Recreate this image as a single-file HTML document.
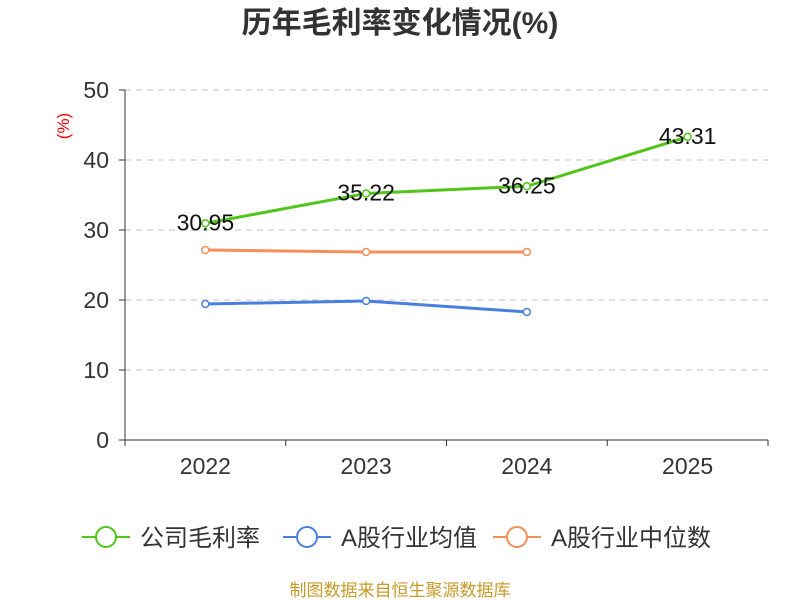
<!DOCTYPE html>
<html><head><meta charset="utf-8"><style>
body{margin:0;background:#fff;}
svg{display:block;font-family:"Liberation Sans","Noto Sans CJK SC",sans-serif;}
</style></head><body>
<svg id="c" width="800" height="600">
<text x="400" y="33" text-anchor="middle" font-size="30" font-weight="bold" fill="#333">历年毛利率变化情况(%)</text>
<text x="0" y="0" transform="translate(69,126) rotate(-90)" text-anchor="middle" font-size="17" fill="#e00">(%)</text>
<g id="grid"></g><g id="axes"></g><g id="series"></g>
<g id="legend"></g>
<text x="400" y="596" text-anchor="middle" font-size="17" fill="#c89a2a">制图数据来自恒生聚源数据库</text>
</svg>
<script>
const categories=["2022","2023","2024","2025"];
const grossMargin=[30.95,35.22,36.25,43.31];
const industryAvg=[19.43,19.86,18.29];
const industryMedian=[27.14,26.86,26.86];
const yTicks=[0,10,20,30,40,50];
const seriesNames=["公司毛利率","A股行业均值","A股行业中位数"];
const colors=["#52c41a","#4a7fe0","#f58f5a"];
const NS="http://www.w3.org/2000/svg";
const X0=125,X1=768,Y0=440,Y1=90;
const bw=(X1-X0)/categories.length;
const xs=i=>X0+bw*(i+0.5);
const ys=v=>Y0-(v-0)/(50-0)*(Y0-Y1);
function mk(t,a,p){const e=document.createElementNS(NS,t);for(const k in a)e.setAttribute(k,a[k]);p.appendChild(e);return e;}
const g=document.getElementById('grid'),ax=document.getElementById('axes'),s=document.getElementById('series'),lg=document.getElementById('legend');
yTicks.forEach(t=>{
 const y=ys(t);
 if(t>0){const l=mk('line',{x1:X0,x2:X1,y1:y,y2:y,stroke:'#c4c4c4','stroke-dasharray':'6,5'},g);
 
 }
 const tk=mk('line',{x1:X0-6,x2:X0,y1:y,y2:y,stroke:'#333'},ax);
 
 
 const tx=mk('text',{x:X0-16,y:y+8,'text-anchor':'end','font-size':23,fill:'#333'},ax);tx.textContent=t;
 
 
});
const ya=mk('line',{x1:X0,x2:X0,y1:Y1,y2:Y0,stroke:'#333'},ax);


const xa=mk('line',{x1:X0,x2:X1,y1:Y0,y2:Y0,stroke:'#333'},ax);


for(let i=0;i<=categories.length;i++){const t=mk('line',{x1:X0+bw*i,x2:X0+bw*i,y1:Y0,y2:Y0+6,stroke:'#333'},ax);
 
 }
categories.forEach((c,i)=>{const t=mk('text',{x:xs(i),y:Y0+34,'text-anchor':'middle','font-size':23,fill:'#333'},ax);t.textContent=c;
 
 });
function drawSeries(vals,col,name,labels){
 const pts=vals.map((v,i)=>xs(i)+','+ys(v)).join(' ');
 const pl=mk('polyline',{points:pts,fill:'none',stroke:col,'stroke-width':3},s);
 
 
 vals.forEach((v,i)=>{
  const c=mk('circle',{cx:xs(i),cy:ys(v),r:3.5,fill:'#fff',stroke:col,'stroke-width':1.5},s);
  
  
  if(labels){const t=mk('text',{x:xs(i),y:ys(v)+7,'text-anchor':'middle','font-size':23,fill:'#111'},s);t.textContent=v.toFixed(2);
  
  }
 });
}
drawSeries(industryMedian,colors[2],'industry-median',false);
drawSeries(industryAvg,colors[1],'industry-average',false);
drawSeries(grossMargin,colors[0],'gross-margin',true);
const lx=[82,283,493];
seriesNames.forEach((n,i)=>{
 const gg=mk('g',{},lg);
 
 
 mk('line',{x1:lx[i],x2:lx[i]+48,y1:537,y2:537,stroke:colors[i],'stroke-width':2},gg);
 mk('circle',{cx:lx[i]+24,cy:537,r:10,fill:'#fff',stroke:colors[i],'stroke-width':2},gg);
 const t=mk('text',{x:lx[i]+58,y:546,'font-size':24,fill:'#333'},gg);t.textContent=n;
});
</script>
</body></html>
